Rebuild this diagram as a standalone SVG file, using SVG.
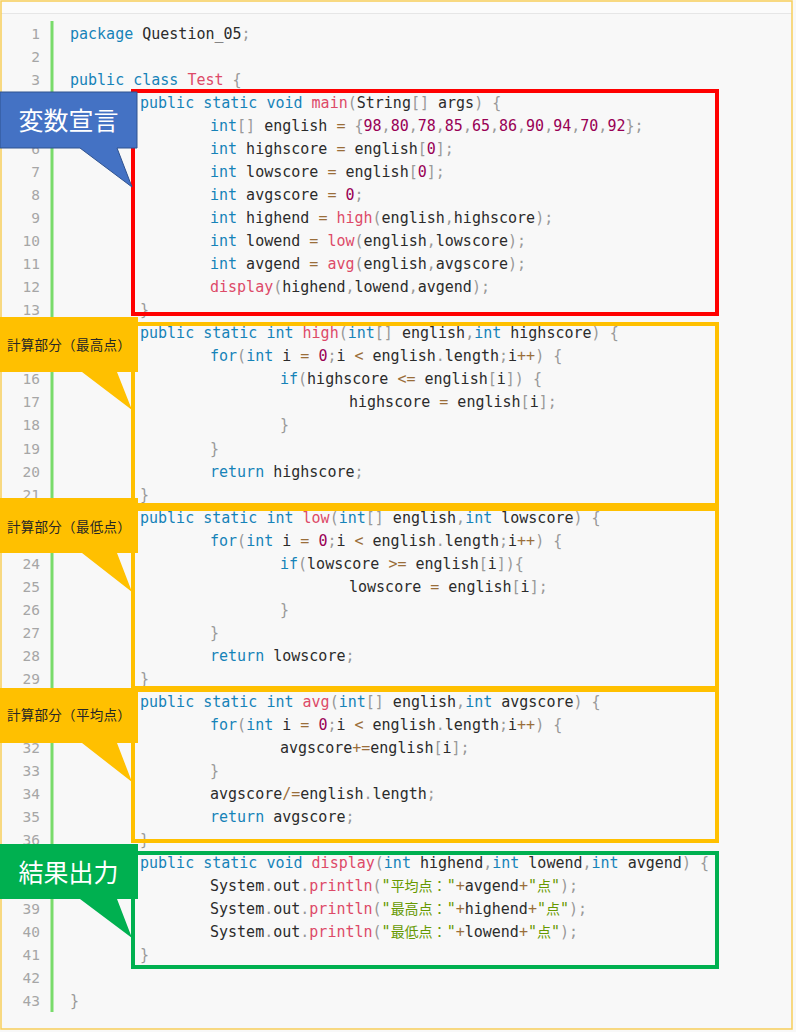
<svg xmlns="http://www.w3.org/2000/svg" width="796" height="1032" viewBox="0 0 796 1032">
<style>
.code{font-family:"DejaVu Sans Mono","Noto Sans CJK JP",monospace;font-size:15px;fill:#2b2b2b}
.ln{font-family:"DejaVu Sans Mono",monospace;font-size:14.5px;fill:#a6a6a6;text-anchor:end}
.k{fill:#1683b8}.f{fill:#dd4a68}.n{fill:#990055}.p{fill:#999999}.o{fill:#9a6e3a}.s{fill:#669900}
.cj{font-family:"Noto Sans CJK JP",sans-serif;font-size:14px}
.box{fill:none;stroke-width:4}
.cl{font-family:"Noto Sans CJK JP",sans-serif;text-anchor:middle}
.big{font-size:25px;fill:#ffffff}
.small{font-size:13.5px;fill:#262626;letter-spacing:0.3px}
</style>
<g id="background">
<rect x="0" y="0" width="796" height="1032" fill="#f8f8f8"/>
<rect x="1" y="1" width="791" height="12" fill="#fbfbfb"/>
<line x1="1" y1="13.5" x2="792" y2="13.5" stroke="#e6e6e6" stroke-width="1"/>
<rect x="1" y="1" width="791" height="1028" fill="none" stroke="#f7ce5a" stroke-width="1.5"/>
<rect x="50.5" y="21" width="3" height="991" fill="#79db6b"/>
</g>
<g id="line-numbers" class="ln" transform="translate(0,1.2)">
<text x="40" y="38">1</text><text x="40" y="61">2</text><text x="40" y="84">3</text><text x="40" y="153.1">6</text><text x="40" y="176.1">7</text><text x="40" y="199.1">8</text><text x="40" y="222.2">9</text><text x="40" y="245.2">10</text><text x="40" y="268.2">11</text><text x="40" y="291.2">12</text><text x="40" y="314.2">13</text><text x="40" y="383.3">16</text><text x="40" y="406.3">17</text><text x="40" y="429.3">18</text><text x="40" y="452.4">19</text><text x="40" y="475.4">20</text><text x="40" y="498.4">21</text><text x="40" y="567.5">24</text><text x="40" y="590.5">25</text><text x="40" y="613.5">26</text><text x="40" y="636.5">27</text><text x="40" y="659.5">28</text><text x="40" y="682.6">29</text><text x="40" y="751.6">32</text><text x="40" y="774.6">33</text><text x="40" y="797.7">34</text><text x="40" y="820.7">35</text><text x="40" y="843.7">36</text><text x="40" y="912.8">39</text><text x="40" y="935.8">40</text><text x="40" y="958.8">41</text><text x="40" y="981.8">42</text><text x="40" y="1004.8">43</text>
</g>
<g id="code" class="code" transform="translate(0,1.2)">
<text x="70" y="38"><tspan class="k">package</tspan> Question_05<tspan class="p">;</tspan></text>
<text x="70" y="84"><tspan class="k">public</tspan> <tspan class="k">class</tspan> <tspan class="f">Test</tspan> <tspan class="p">{</tspan></text>
<text x="140" y="107.1"><tspan class="k">public</tspan> <tspan class="k">static</tspan> <tspan class="k">void</tspan> <tspan class="f">main</tspan><tspan class="p">(</tspan>String<tspan class="p">[]</tspan> args<tspan class="p">)</tspan> <tspan class="p">{</tspan></text>
<text x="210" y="130.1"><tspan class="k">int</tspan><tspan class="p">[]</tspan> english <tspan class="o">=</tspan> <tspan class="p">{</tspan><tspan class="n">98</tspan><tspan class="p">,</tspan><tspan class="n">80</tspan><tspan class="p">,</tspan><tspan class="n">78</tspan><tspan class="p">,</tspan><tspan class="n">85</tspan><tspan class="p">,</tspan><tspan class="n">65</tspan><tspan class="p">,</tspan><tspan class="n">86</tspan><tspan class="p">,</tspan><tspan class="n">90</tspan><tspan class="p">,</tspan><tspan class="n">94</tspan><tspan class="p">,</tspan><tspan class="n">70</tspan><tspan class="p">,</tspan><tspan class="n">92</tspan><tspan class="p">};</tspan></text>
<text x="210" y="153.1"><tspan class="k">int</tspan> highscore <tspan class="o">=</tspan> english<tspan class="p">[</tspan><tspan class="n">0</tspan><tspan class="p">];</tspan></text>
<text x="210" y="176.1"><tspan class="k">int</tspan> lowscore <tspan class="o">=</tspan> english<tspan class="p">[</tspan><tspan class="n">0</tspan><tspan class="p">];</tspan></text>
<text x="210" y="199.1"><tspan class="k">int</tspan> avgscore <tspan class="o">=</tspan> <tspan class="n">0</tspan><tspan class="p">;</tspan></text>
<text x="210" y="222.2"><tspan class="k">int</tspan> highend <tspan class="o">=</tspan> <tspan class="f">high</tspan><tspan class="p">(</tspan>english<tspan class="p">,</tspan>highscore<tspan class="p">);</tspan></text>
<text x="210" y="245.2"><tspan class="k">int</tspan> lowend <tspan class="o">=</tspan> <tspan class="f">low</tspan><tspan class="p">(</tspan>english<tspan class="p">,</tspan>lowscore<tspan class="p">);</tspan></text>
<text x="210" y="268.2"><tspan class="k">int</tspan> avgend <tspan class="o">=</tspan> <tspan class="f">avg</tspan><tspan class="p">(</tspan>english<tspan class="p">,</tspan>avgscore<tspan class="p">);</tspan></text>
<text x="210" y="291.2"><tspan class="f">display</tspan><tspan class="p">(</tspan>highend<tspan class="p">,</tspan>lowend<tspan class="p">,</tspan>avgend<tspan class="p">);</tspan></text>
<text x="140" y="314.2" class="p">}</text>
<text x="140" y="337.3"><tspan class="k">public</tspan> <tspan class="k">static</tspan> <tspan class="k">int</tspan> <tspan class="f">high</tspan><tspan class="p">(</tspan><tspan class="k">int</tspan><tspan class="p">[]</tspan> english<tspan class="p">,</tspan><tspan class="k">int</tspan> highscore<tspan class="p">)</tspan> <tspan class="p">{</tspan></text>
<text x="210" y="360.3"><tspan class="k">for</tspan><tspan class="p">(</tspan><tspan class="k">int</tspan> i <tspan class="o">=</tspan> <tspan class="n">0</tspan><tspan class="p">;</tspan>i <tspan class="o">&lt;</tspan> english<tspan class="p">.</tspan>length<tspan class="p">;</tspan>i<tspan class="o">++</tspan><tspan class="p">)</tspan> <tspan class="p">{</tspan></text>
<text x="280" y="383.3"><tspan class="k">if</tspan><tspan class="p">(</tspan>highscore <tspan class="o">&lt;=</tspan> english<tspan class="p">[</tspan>i<tspan class="p">])</tspan> <tspan class="p">{</tspan></text>
<text x="349" y="406.3">highscore <tspan class="o">=</tspan> english<tspan class="p">[</tspan>i<tspan class="p">];</tspan></text>
<text x="280" y="429.3" class="p">}</text>
<text x="210" y="452.4" class="p">}</text>
<text x="210" y="475.4"><tspan class="k">return</tspan> highscore<tspan class="p">;</tspan></text>
<text x="140" y="498.4" class="p">}</text>
<text x="140" y="521.4"><tspan class="k">public</tspan> <tspan class="k">static</tspan> <tspan class="k">int</tspan> <tspan class="f">low</tspan><tspan class="p">(</tspan><tspan class="k">int</tspan><tspan class="p">[]</tspan> english<tspan class="p">,</tspan><tspan class="k">int</tspan> lowscore<tspan class="p">)</tspan> <tspan class="p">{</tspan></text>
<text x="210" y="544.4"><tspan class="k">for</tspan><tspan class="p">(</tspan><tspan class="k">int</tspan> i <tspan class="o">=</tspan> <tspan class="n">0</tspan><tspan class="p">;</tspan>i <tspan class="o">&lt;</tspan> english<tspan class="p">.</tspan>length<tspan class="p">;</tspan>i<tspan class="o">++</tspan><tspan class="p">)</tspan> <tspan class="p">{</tspan></text>
<text x="280" y="567.5"><tspan class="k">if</tspan><tspan class="p">(</tspan>lowscore <tspan class="o">&gt;=</tspan> english<tspan class="p">[</tspan>i<tspan class="p">]){</tspan></text>
<text x="349" y="590.5">lowscore <tspan class="o">=</tspan> english<tspan class="p">[</tspan>i<tspan class="p">];</tspan></text>
<text x="280" y="613.5" class="p">}</text>
<text x="210" y="636.5" class="p">}</text>
<text x="210" y="659.5"><tspan class="k">return</tspan> lowscore<tspan class="p">;</tspan></text>
<text x="140" y="682.6" class="p">}</text>
<text x="140" y="705.6"><tspan class="k">public</tspan> <tspan class="k">static</tspan> <tspan class="k">int</tspan> <tspan class="f">avg</tspan><tspan class="p">(</tspan><tspan class="k">int</tspan><tspan class="p">[]</tspan> english<tspan class="p">,</tspan><tspan class="k">int</tspan> avgscore<tspan class="p">)</tspan> <tspan class="p">{</tspan></text>
<text x="210" y="728.6"><tspan class="k">for</tspan><tspan class="p">(</tspan><tspan class="k">int</tspan> i <tspan class="o">=</tspan> <tspan class="n">0</tspan><tspan class="p">;</tspan>i <tspan class="o">&lt;</tspan> english<tspan class="p">.</tspan>length<tspan class="p">;</tspan>i<tspan class="o">++</tspan><tspan class="p">)</tspan> <tspan class="p">{</tspan></text>
<text x="280" y="751.6">avgscore<tspan class="o">+=</tspan>english<tspan class="p">[</tspan>i<tspan class="p">];</tspan></text>
<text x="210" y="774.6" class="p">}</text>
<text x="210" y="797.7">avgscore<tspan class="o">/=</tspan>english<tspan class="p">.</tspan>length<tspan class="p">;</tspan></text>
<text x="210" y="820.7"><tspan class="k">return</tspan> avgscore<tspan class="p">;</tspan></text>
<text x="140" y="843.7" class="p">}</text>
<text x="140" y="866.7"><tspan class="k">public</tspan> <tspan class="k">static</tspan> <tspan class="k">void</tspan> <tspan class="f">display</tspan><tspan class="p">(</tspan><tspan class="k">int</tspan> highend<tspan class="p">,</tspan><tspan class="k">int</tspan> lowend<tspan class="p">,</tspan><tspan class="k">int</tspan> avgend<tspan class="p">)</tspan> <tspan class="p">{</tspan></text>
<text x="210" y="889.7">System<tspan class="p">.</tspan>out<tspan class="p">.</tspan><tspan class="f">println</tspan><tspan class="p">(</tspan><tspan class="s">"<tspan class="cj">平均点：</tspan>"</tspan><tspan class="o">+</tspan>avgend<tspan class="o">+</tspan><tspan class="s">"<tspan class="cj">点</tspan>"</tspan><tspan class="p">);</tspan></text>
<text x="210" y="912.8">System<tspan class="p">.</tspan>out<tspan class="p">.</tspan><tspan class="f">println</tspan><tspan class="p">(</tspan><tspan class="s">"<tspan class="cj">最高点：</tspan>"</tspan><tspan class="o">+</tspan>highend<tspan class="o">+</tspan><tspan class="s">"<tspan class="cj">点</tspan>"</tspan><tspan class="p">);</tspan></text>
<text x="210" y="935.8">System<tspan class="p">.</tspan>out<tspan class="p">.</tspan><tspan class="f">println</tspan><tspan class="p">(</tspan><tspan class="s">"<tspan class="cj">最低点：</tspan>"</tspan><tspan class="o">+</tspan>lowend<tspan class="o">+</tspan><tspan class="s">"<tspan class="cj">点</tspan>"</tspan><tspan class="p">);</tspan></text>
<text x="140" y="958.8" class="p">}</text>
<text x="70" y="1004.8" class="p">}</text>
</g>
<g id="connectors"></g>
<g id="node-main">
<rect class="box" x="133" y="91" width="584" height="223" stroke="#ff0000"/>
<path d="M0,92 H137 V148 H117 L132,187 L80,148 H0 Z" fill="#4472c4" stroke="#2f528f" stroke-width="1"/>
<text class="cl big" x="68.5" y="129.5">変数宣言</text>
</g>
<g id="node-high">
<rect class="box" x="133" y="324" width="584" height="181" stroke="#ffc000"/>
<path d="M0,317 H138 V372 H117 L132,410 L82,372 H0 Z" fill="#ffc000"/>
<text class="cl small" x="69" y="350">計算部分（最高点）</text>
</g>
<g id="node-low">
<rect class="box" x="133" y="509" width="584" height="179" stroke="#ffc000"/>
<path d="M0,498 H138 V553 H117 L132,592 L82,553 H0 Z" fill="#ffc000"/>
<text class="cl small" x="69" y="531.5">計算部分（最低点）</text>
</g>
<g id="node-avg">
<rect class="box" x="133" y="690" width="584" height="151" stroke="#ffc000"/>
<path d="M0,688 H138 V743 H117 L132,782 L82,743 H0 Z" fill="#ffc000"/>
<text class="cl small" x="69" y="720">計算部分（平均点）</text>
</g>
<g id="node-display">
<rect class="box" x="133" y="853" width="584" height="114" stroke="#00b050"/>
<path d="M0,844 H138 V899 H117 L132,938 L80,899 H0 Z" fill="#00b050"/>
<text class="cl big" x="68.5" y="881.5">結果出力</text>
</g>
</svg>
